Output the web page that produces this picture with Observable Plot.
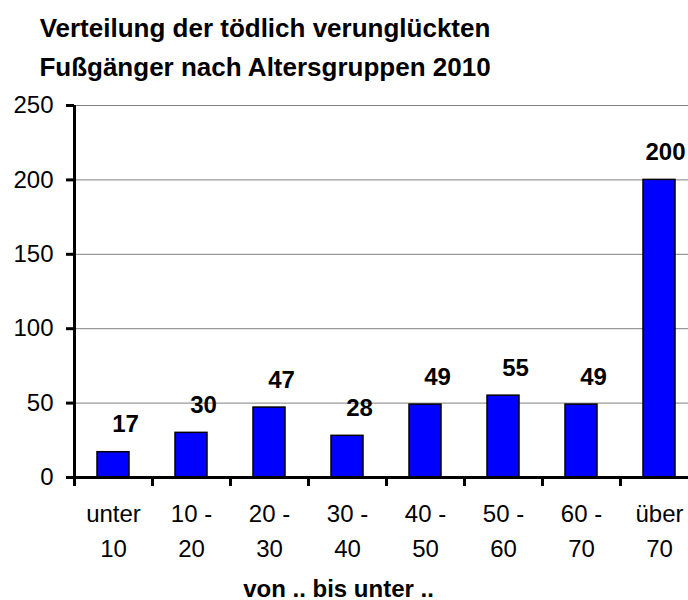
<!DOCTYPE html>
<html>
<head>
<meta charset="utf-8">
<script src="https://cdn.jsdelivr.net/npm/d3@7"></script>
<script src="https://cdn.jsdelivr.net/npm/@observablehq/plot@0.6"></script>
<style>
  html, body { margin: 0; padding: 0; background: white; overflow: hidden; }
  #title {
    width: 530px; height: 88px; box-sizing: border-box; padding-top: 9px;
    font-family: "Liberation Sans", Arial, sans-serif; font-weight: bold;
    font-size: 26px; line-height: 39px; text-align: center; color: black;
    white-space: nowrap;
  }
  #chart svg { font-family: "Liberation Sans", Arial, sans-serif; }
</style>
</head>
<body>
<div id="title">Verteilung der tödlich verunglückten<br>Fußgänger nach Altersgruppen 2010</div>
<div id="chart"></div>
<script>
const categories = ["unter 10", "10 - 20", "20 - 30", "30 - 40", "40 - 50", "50 - 60", "60 - 70", "über 70"];
const tickLabels = ["unter\n10", "10 -\n20", "20 -\n30", "30 -\n40", "40 -\n50", "50 -\n60", "60 -\n70", "über\n70"];
const values = [17, 30, 47, 28, 49, 55, 49, 200];
const yTicks = [0, 50, 100, 150, 200, 250];
const xTitle = "von .. bis unter ..";

const data = categories.map((c, i) => ({cat: c, label: tickLabels[i], value: values[i]}));
const labelsMain = data.slice(0, -1);
const labelsLast = data.slice(-1);

const chart = Plot.plot({
  width: 688,
  height: 512,
  marginTop: 17,
  marginBottom: 123,
  marginLeft: 74,
  marginRight: 0,
  style: {fontFamily: "Liberation Sans, Arial, sans-serif", fontSize: "24px", color: "black", background: "white"},
  x: {domain: categories, range: [74, 698], paddingInner: 0.59, paddingOuter: 0.295, axis: null},
  y: {domain: [0, 250], axis: null},
  marks: [
    Plot.gridY(yTicks.slice(1), {stroke: "#808080", strokeOpacity: 1, strokeWidth: 1}),
    Plot.barY(data, {x: "cat", y: "value", fill: "#0000FF", stroke: "black", strokeWidth: 1.5}),
    Plot.ruleX([categories[0]], {dx: -39, y1: 0, y2: 250, stroke: "black", strokeWidth: 3}),
    Plot.ruleY([0], {stroke: "black", strokeWidth: 3}),
    Plot.axisX({ticks: categories, tickSize: 9, tickFormat: () => "", label: null, dx: -39, strokeWidth: 3, stroke: "black"}),
    Plot.axisY({ticks: yTicks, tickSize: 8, tickPadding: 13, label: null, strokeWidth: 3, stroke: "black", fontSize: 24, fill: "black"}),
    Plot.text(data, {x: "cat", text: "label", frameAnchor: "bottom", lineAnchor: "top", dy: 20, lineHeight: 1.458, fontSize: 24, fill: "black"}),
    Plot.text(labelsMain, {x: "cat", y: "value", text: d => String(d.value), lineAnchor: "bottom", dx: 12, dy: -20, fontSize: 24, fontWeight: "bold", fill: "black"}),
    Plot.text(labelsLast, {x: "cat", y: "value", text: d => String(d.value), lineAnchor: "bottom", dx: 6, dy: -20, fontSize: 24, fontWeight: "bold", fill: "black"}),
    Plot.text([xTitle], {text: d => d, frameAnchor: "bottom", dx: -43, dy: 119, fontSize: 24, fontWeight: "bold", fill: "black"})
  ]
});
document.getElementById("chart").appendChild(chart);
</script>
</body>
</html>
